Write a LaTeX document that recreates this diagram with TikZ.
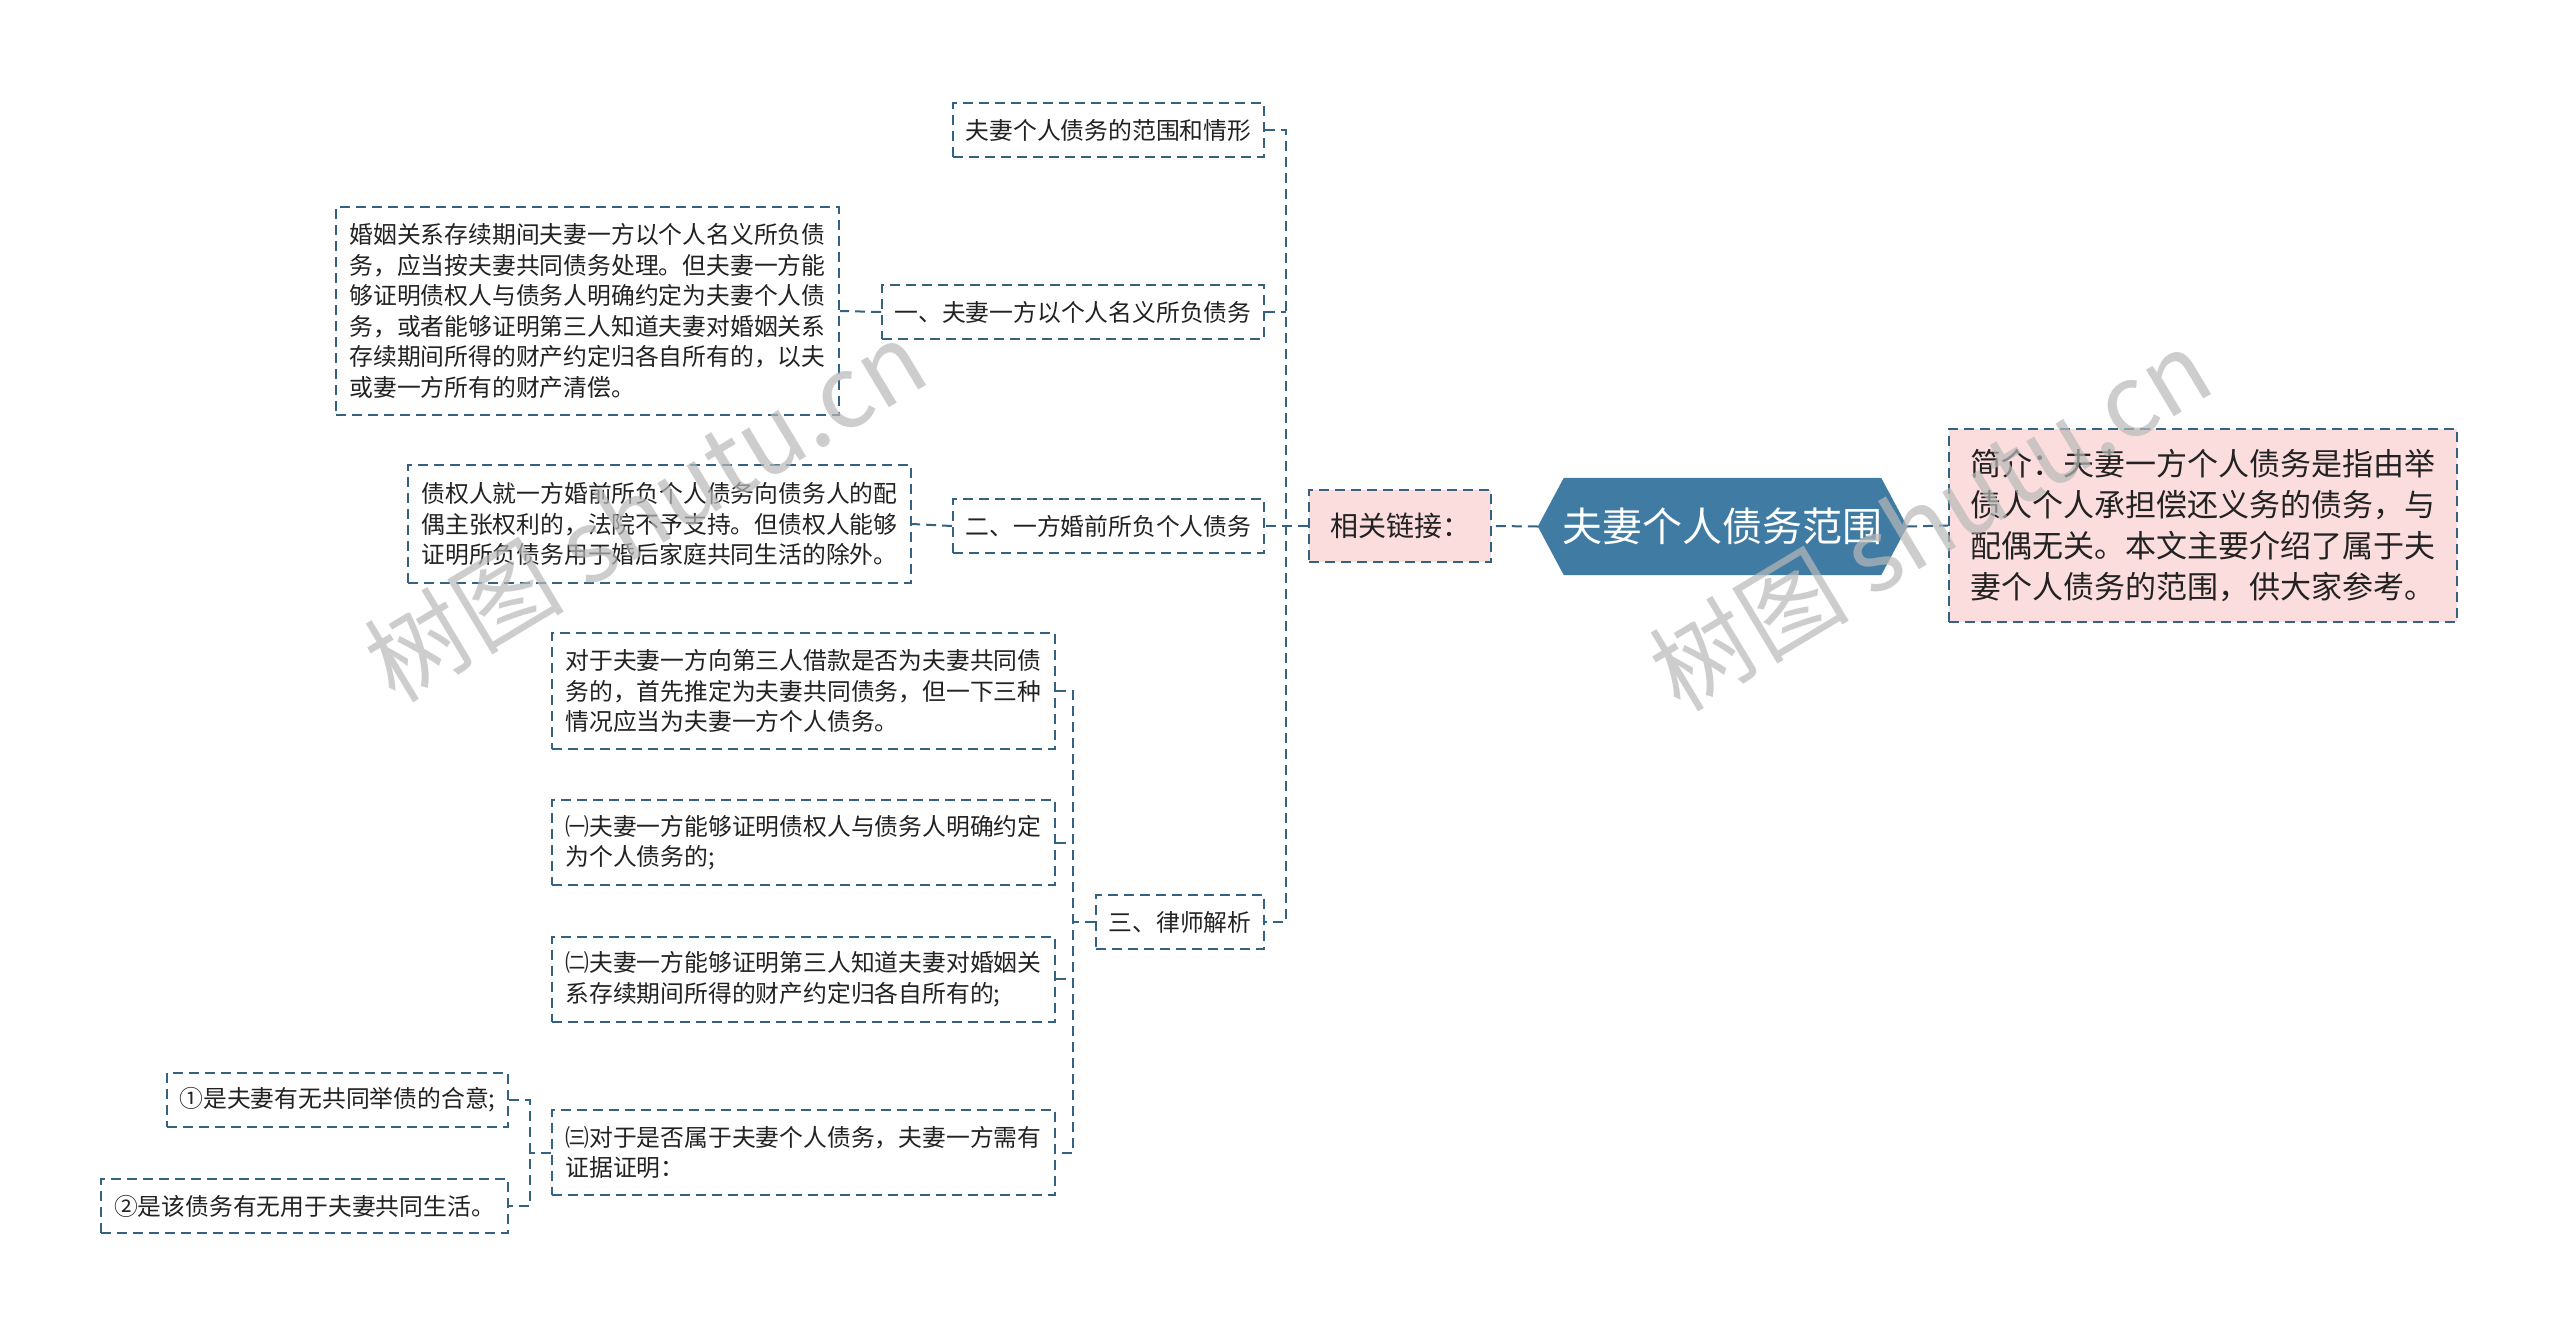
\documentclass[tikz,border=0pt]{standalone}
\usepackage{fontspec}
\newfontfamily\cjk{Noto Sans CJK SC}
\usetikzlibrary{calc,backgrounds}
\definecolor{lineblue}{RGB}{52,98,130}
\definecolor{rootblue}{RGB}{63,123,163}
\definecolor{pinkfill}{RGB}{252,221,221}
\definecolor{wmgray}{RGB}{185,185,185}
\definecolor{txt}{RGB}{34,34,34}
\tikzset{
  box/.style={draw=lineblue, line width=2pt, dash pattern=on 10pt off 6pt, inner sep=12pt,
    font=\cjk\fontsize{23.8}{30.5}\selectfont, text=txt, align=left},
  pinkbox/.style={box, fill=pinkfill},
  conn/.style={draw=lineblue, line width=2pt, dash pattern=on 10pt off 6pt},
  wmark/.style={font=\cjk\fontsize{100}{100}\selectfont, text=wmgray, opacity=0.7, rotate=31},
}
\begin{document}
\begin{tikzpicture}[x=1pt,y=-1pt]
\useasboundingbox (0,0) rectangle (2560,1336);

% root
\node[minimum width=369pt, minimum height=97pt, inner sep=0pt, text=white,
  font=\cjk\fontsize{40}{48}\selectfont] (root) at (1722.5,526.5) {夫妻个人债务范围};
\begin{scope}[on background layer]
\fill[white] (0,0) rectangle (2560,1336);
\fill[rootblue] (root.west) -- ($(root.north west)+(26,0)$) -- ($(root.north east)+(-26,0)$)
  -- (root.east) -- ($(root.south east)+(-26,0)$) -- ($(root.south west)+(26,0)$) -- cycle;
\end{scope}

% intro
\node[pinkbox, minimum width=508pt, minimum height=193pt, font=\cjk\fontsize{31}{41}\selectfont] (intro) at (2203,525.5)
 {简介：夫妻一方个人债务是指由举\\债人个人承担偿还义务的债务，与\\配偶无关。本文主要介绍了属于夫\\妻个人债务的范围，供大家参考。};

% related links
\node[pinkbox, minimum width=182pt, minimum height=72pt, font=\cjk\fontsize{28}{34}\selectfont] (rel) at (1400,526) {相关链接：};

% second level
\node[box, minimum width=311pt, minimum height=54pt] (c1) at (1108.5,130) {夫妻个人债务的范围和情形};
\node[box, minimum width=382pt, minimum height=54pt] (c2) at (1073,312) {一、夫妻一方以个人名义所负债务};
\node[box, minimum width=311pt, minimum height=54pt] (c3) at (1108.5,526) {二、一方婚前所负个人债务};
\node[box, minimum width=168pt, minimum height=54pt] (c4) at (1180,922) {三、律师解析};

% leaves
\node[box, minimum width=503pt, minimum height=208pt] (b1) at (587.5,311)
 {婚姻关系存续期间夫妻一方以个人名义所负债\\务，应当按夫妻共同债务处理。但夫妻一方能\\够证明债权人与债务人明确约定为夫妻个人债\\务，或者能够证明第三人知道夫妻对婚姻关系\\存续期间所得的财产约定归各自所有的，以夫\\或妻一方所有的财产清偿。};
\node[box, minimum width=503pt, minimum height=118pt] (b2) at (659.5,524)
 {债权人就一方婚前所负个人债务向债务人的配\\偶主张权利的，法院不予支持。但债权人能够\\证明所负债务用于婚后家庭共同生活的除外。};
\node[box, minimum width=503pt, minimum height=116pt] (b3a) at (803.5,691)
 {对于夫妻一方向第三人借款是否为夫妻共同债\\务的，首先推定为夫妻共同债务，但一下三种\\情况应当为夫妻一方个人债务。};
\node[box, minimum width=503pt, minimum height=85pt] (b3b) at (803.5,842.5)
 {㈠夫妻一方能够证明债权人与债务人明确约定\\为个人债务的;};
\node[box, minimum width=503pt, minimum height=85pt] (b3c) at (803.5,979)
 {㈡夫妻一方能够证明第三人知道夫妻对婚姻关\\系存续期间所得的财产约定归各自所有的;};
\node[box, minimum width=503pt, minimum height=85pt] (b3d) at (803.5,1152.5)
 {㈢对于是否属于夫妻个人债务，夫妻一方需有\\证据证明：};
\node[box, minimum width=341pt, minimum height=54pt] (d1) at (337.5,1100) {①是夫妻有无共同举债的合意;};
\node[box, minimum width=407pt, minimum height=54pt] (d2) at (304.5,1206) {②是该债务有无用于夫妻共同生活。};

% connectors
\draw[conn] (root.east) -- (intro.west);
\draw[conn] (root.west) -- (rel.east);
\coordinate (tr) at ($(rel.west)+(-22,0)$);
\draw[conn] (rel.west) -- (c3.east);
\draw[conn] (c1.east) -| (tr) |- (c4.east);
\draw[conn] (c2.east) -- (c2.east -| tr);
\draw[conn] (c2.west) -- (b1.east);
\draw[conn] (c3.west) -- (b2.east);
\coordinate (t3) at ($(c4.west)+(-22,0)$);
\draw[conn] (c4.west) -- (t3);
\draw[conn] (b3a.east) -| (t3) |- (b3d.east);
\draw[conn] (b3b.east) -- (b3b.east -| t3);
\draw[conn] (b3c.east) -- (b3c.east -| t3);
\coordinate (t4) at ($(b3d.west)+(-21,0)$);
\draw[conn] (b3d.west) -- (t4);
\draw[conn] (d1.east) -| (t4) |- (d2.east);

% watermarks
\node[wmark] (wm1) at (645,510) {树图 shutu.cn};
\node[wmark] (wm2) at (1930,519) {树图 shutu.cn};
\end{tikzpicture}
\end{document}
